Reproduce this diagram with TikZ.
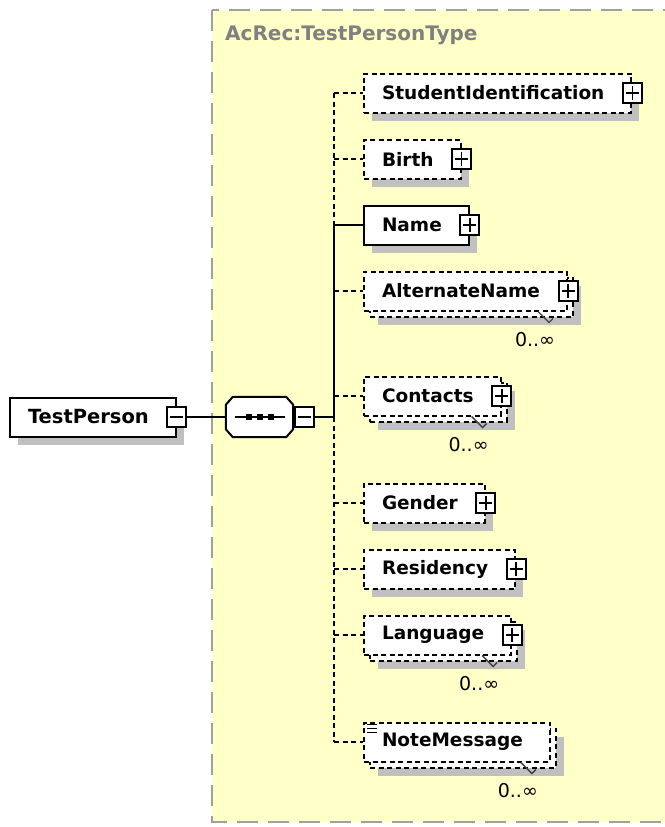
\documentclass[tikz,border=0pt]{standalone}
\usepackage{fontspec}
\newfontfamily\xsdfont{DejaVu Sans}
\usetikzlibrary{shadows}
\definecolor{typeFill}{RGB}{255,255,200}
\definecolor{typeLine}{RGB}{160,160,160}
\definecolor{typeText}{RGB}{128,128,128}
\definecolor{shadowGray}{RGB}{192,192,192}
\begin{document}
\begin{tikzpicture}[x=1pt, y=-1pt,
    box/.style={draw, fill=white, line width=2pt, minimum height=39pt, inner xsep=18pt, inner ysep=0pt, anchor=west,
        font=\xsdfont\bfseries\fontsize{18.5}{20}\selectfont, execute at end node={\hspace*{9pt}}},
    one/.style={box, drop shadow={shadow xshift=8pt, shadow yshift=-8pt, fill=shadowGray, opacity=1}},
    opt/.style={one, dash pattern=on 5pt off 3.5pt},
    many/.style={box, dash pattern=on 5pt off 3.5pt,
        drop shadow={shadow xshift=14pt, shadow yshift=-14pt, fill=shadowGray, opacity=1},
        copy shadow={shadow xshift=6pt, shadow yshift=-6pt, draw, fill=white}},
    btn/.style={draw, solid, fill=white, line width=2pt, minimum width=19pt, minimum height=20pt, inner sep=0pt},
    plus/.style={btn, path picture={\draw[line width=1.8pt] ([xshift=3pt]path picture bounding box.west) -- ([xshift=-3pt]path picture bounding box.east) ([yshift=-3pt]path picture bounding box.north) -- ([yshift=3pt]path picture bounding box.south);}},
    minus/.style={btn, path picture={\draw[line width=1.8pt] ([xshift=3pt]path picture bounding box.west) -- ([xshift=-3pt]path picture bounding box.east);}},
    occurs/.style={font=\xsdfont\fontsize{19}{21}\selectfont, inner sep=0pt},
    tick/.style={line width=1.3pt, black!75},
    optLine/.style={line width=2pt, dash pattern=on 5pt off 3.5pt},
    reqLine/.style={line width=2pt}]
    \useasboundingbox (0,0) rectangle (664,827);
    \draw[typeLine, line width=2pt, dash pattern=on 21pt off 10pt, fill=typeFill] (212,10) rectangle (690,822);
    \node[anchor=west, inner sep=0pt, text=typeText, font=\xsdfont\bfseries\fontsize{20}{22}\selectfont] (typeName) at (225,35) {AcRec:TestPersonType};

    \node[one, font=\xsdfont\bfseries\fontsize{19.5}{21}\selectfont] (person) at (9,417) {TestPerson};
    \node[minus] (personMinus) at (person.east) {};

    \node[minimum width=67pt, minimum height=40pt, inner sep=0pt] (seq) at (259.5,417) {};
    \fill[shadowGray, shift={(8,8)}] ([xshift=7pt]seq.north west) -- ([xshift=-7pt]seq.north east) -- ([yshift=-8pt]seq.north east)
        -- ([yshift=8pt]seq.south east) -- ([xshift=-7pt]seq.south east) -- ([xshift=7pt]seq.south west)
        -- ([yshift=8pt]seq.south west) -- ([yshift=-8pt]seq.north west) -- cycle;
    \draw[reqLine, fill=white] ([xshift=7pt]seq.north west) -- ([xshift=-7pt]seq.north east) -- ([yshift=-8pt]seq.north east)
        -- ([yshift=8pt]seq.south east) -- ([xshift=-7pt]seq.south east) -- ([xshift=7pt]seq.south west)
        -- ([yshift=8pt]seq.south west) -- ([yshift=-8pt]seq.north west) -- cycle;
    \draw[reqLine] ([xshift=9pt]seq.west) -- ([xshift=-8pt]seq.east);
    \foreach \dx in {-11,0,11}
        \fill ([xshift=\dx pt]seq.center) ++(-3,-3) rectangle ++(6,6);
    \node[minus, anchor=west] (seqMinus) at ([xshift=1pt]seq.east) {};
    \coordinate (bar) at (334,417);

    \node[opt] (stuId) at (363,93) {StudentIdentification};
    \node[plus] (stuIdPlus) at (stuId.east) {};
    \node[opt] (birth) at (363,159) {Birth};
    \node[plus] (birthPlus) at (birth.east) {};
    \node[one] (name) at (363,225) {Name};
    \node[plus] (namePlus) at (name.east) {};
    \node[many] (altName) at (363,291) {AlternateName};
    \node[plus] (altNamePlus) at (altName.east) {};
    \node[many] (contacts) at (363,396) {Contacts};
    \node[plus] (contactsPlus) at (contacts.east) {};
    \node[opt] (gender) at (363,503) {Gender};
    \node[plus] (genderPlus) at (gender.east) {};
    \node[opt] (residency) at (363,569) {Residency};
    \node[plus] (residencyPlus) at (residency.east) {};
    \node[many] (language) at (363,635) {Language};
    \node[plus] (languagePlus) at (language.east) {};
    \node[many] (note) at (363,742) {NoteMessage};
    \foreach \dy in {3,7,11}
        \draw[line width=1.3pt] ([shift={(4,\dy)}]note.north west) -- ++(10,0);

    \foreach \n in {altName,contacts,language,note} {
        \draw[tick] ([xshift=-30pt]\n.south east) -- ++(11,11) -- ++(4,-4);
        \node[occurs] (\n Occ) at ([shift={(-33,28)}]\n.south east) {0..∞};
    }

    \draw[reqLine] (personMinus) -- (seq);
    \draw[reqLine] (seqMinus) -- (bar);
    \draw[optLine] (stuId.west -| bar) -- (name.west -| bar);
    \draw[reqLine] (name.west -| bar) -- (bar);
    \draw[optLine] (bar) -- (note.west -| bar);
    \draw[reqLine] (name.west -| bar) -- (name);
    \foreach \n in {stuId,birth,altName,contacts,gender,residency,language,note}
        \draw[optLine] (\n.west -| bar) -- (\n);
\end{tikzpicture}
\end{document}
